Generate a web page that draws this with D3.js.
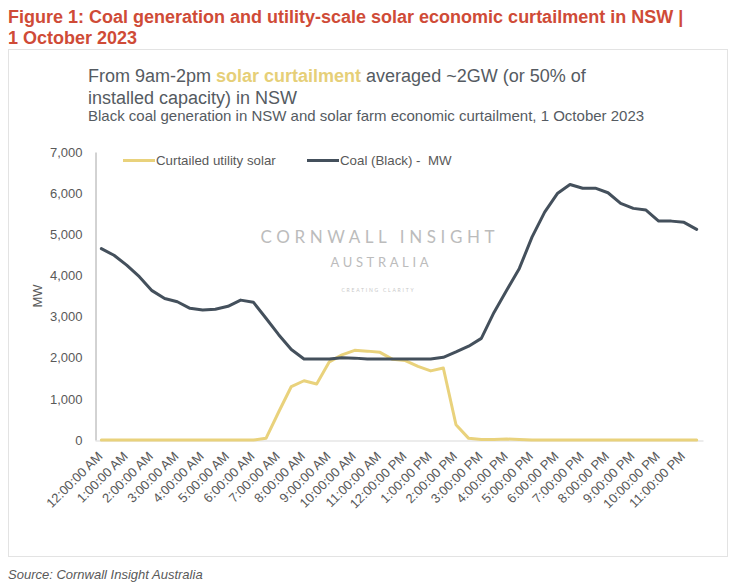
<!DOCTYPE html>
<html>
<head>
<meta charset="utf-8">
<script src="https://cdn.jsdelivr.net/npm/d3@7/dist/d3.min.js"></script>
<style>
  html, body { margin: 0; padding: 0; background: #ffffff; }
  svg { display: block; font-family: "Liberation Sans", Arial, sans-serif; }
  text { white-space: pre; }
</style>
</head>
<body>
<svg id="chart" width="736" height="585"></svg>
<script>
// ---- Data (half-hourly, 1 October 2023) ----
const times = [
  "12:00:00 AM","12:30:00 AM","1:00:00 AM","1:30:00 AM","2:00:00 AM","2:30:00 AM",
  "3:00:00 AM","3:30:00 AM","4:00:00 AM","4:30:00 AM","5:00:00 AM","5:30:00 AM",
  "6:00:00 AM","6:30:00 AM","7:00:00 AM","7:30:00 AM","8:00:00 AM","8:30:00 AM",
  "9:00:00 AM","9:30:00 AM","10:00:00 AM","10:30:00 AM","11:00:00 AM","11:30:00 AM",
  "12:00:00 PM","12:30:00 PM","1:00:00 PM","1:30:00 PM","2:00:00 PM","2:30:00 PM",
  "3:00:00 PM","3:30:00 PM","4:00:00 PM","4:30:00 PM","5:00:00 PM","5:30:00 PM",
  "6:00:00 PM","6:30:00 PM","7:00:00 PM","7:30:00 PM","8:00:00 PM","8:30:00 PM",
  "9:00:00 PM","9:30:00 PM","10:00:00 PM","10:30:00 PM","11:00:00 PM","11:30:00 PM"
];
const solarCurtailed = [
  0,0,0,0,0,0,0,0,0,0,0,0,
  0,40,680,1300,1440,1360,1900,2070,2180,2160,2130,1960,
  1930,1790,1680,1750,370,40,10,10,25,10,0,0,
  0,0,0,0,0,0,0,0,0,0,0,0
];
const coalBlack = [
  4650,4490,4250,3970,3630,3440,3360,3200,3160,3180,3250,3400,
  3350,2960,2560,2200,1970,1970,1970,2000,1990,1970,1970,1970,
  1970,1970,1970,2010,2140,2280,2470,3100,3640,4170,4930,5540,
  5990,6210,6120,6120,6010,5750,5630,5590,5320,5320,5290,5120
];
const xTickLabels = times.filter((t, i) => i % 2 === 0);
const yTickValues = [0,1000,2000,3000,4000,5000,6000,7000];
const seriesNames = ["Curtailed utility solar", "Coal (Black) -  MW"];
const seriesColors = ["#e9d27c", "#44505c"];

// ---- Layout ----
const svg = d3.select("#chart");
const textGrey = "#595959";

// Outer title
svg.append("text").attr("x", 8).attr("y", 22.5)
  .attr("font-size", 18).attr("font-weight", "bold").attr("fill", "#cf4b37")
  .text("Figure 1: Coal generation and utility-scale solar economic curtailment in NSW |");
svg.append("text").attr("x", 8).attr("y", 43.5)
  .attr("font-size", 18).attr("font-weight", "bold").attr("fill", "#cf4b37")
  .text("1 October 2023");

// Chart frame
svg.append("rect").attr("x", 8.5).attr("y", 49.5).attr("width", 719).attr("height", 507)
  .attr("fill", "none").attr("stroke", "#e3e3e3").attr("stroke-width", 1);

// Subtitles
const sub1 = svg.append("text").attr("x", 88).attr("y", 82)
  .attr("font-size", 18).attr("fill", "#555b62");
sub1.append("tspan").text("From 9am-2pm ");
sub1.append("tspan").attr("fill", "#e6cf78").attr("font-weight", "bold").text("solar curtailment");
sub1.append("tspan").text(" averaged ~2GW (or 50% of");
svg.append("text").attr("x", 88).attr("y", 103.5)
  .attr("font-size", 18).attr("fill", "#555b62")
  .text("installed capacity) in NSW");
svg.append("text").attr("x", 88).attr("y", 120.5)
  .attr("font-size", 15).attr("fill", "#555b62")
  .text("Black coal generation in NSW and solar farm economic curtailment, 1 October 2023");

// Scales
const x = d3.scaleBand().domain(times).range([95, 703]).padding(0);
const y = d3.scaleLinear().domain([0, 7000]).range([440, 152]);
const cx = d => x(d) + x.bandwidth() / 2;

// Watermark
const wm = svg.append("g").attr("fill", "#bcbcbc").attr("font-family", "Lato, 'Open Sans', sans-serif");
wm.append("text").attr("x", 260.5).attr("y", 242.5).attr("font-size", 17)
  .attr("textLength", 234).attr("lengthAdjust", "spacing").text("CORNWALL INSIGHT");
wm.append("text").attr("x", 330.5).attr("y", 266.5).attr("font-size", 13)
  .attr("textLength", 98).attr("lengthAdjust", "spacing").text("AUSTRALIA");
wm.append("text").attr("x", 341.5).attr("y", 292).attr("font-size", 5).attr("fill", "#c8c8c8")
  .attr("textLength", 72).attr("lengthAdjust", "spacing").text("CREATING CLARITY");

// Y axis
const yAxis = svg.append("g").attr("transform", "translate(95.5,0)")
  .call(d3.axisLeft(y).tickValues(yTickValues).tickSize(0).tickPadding(13)
    .tickFormat(d3.format(",")));
yAxis.select(".domain").attr("stroke", "#a6a6a6").attr("stroke-width", 1);
yAxis.selectAll("text").attr("font-size", 13).attr("fill", textGrey)
  .attr("font-family", "'Liberation Sans', Arial, sans-serif");

// Y axis title
svg.append("text").attr("transform", "translate(41.5,296) rotate(-90)")
  .attr("text-anchor", "middle").attr("font-size", 13).attr("fill", textGrey).text("MW");

// X axis baseline
const xAxis = svg.append("g").attr("transform", "translate(0,440.5)")
  .call(d3.axisBottom(x).tickValues(xTickLabels).tickSize(0).tickFormat(() => ""));
xAxis.select(".domain").attr("stroke", "#d9d9d9").attr("stroke-width", 1);

// X tick labels rotated
svg.append("g").selectAll("text").data(xTickLabels).join("text")
  .attr("transform", d => `translate(${cx(d) + 2},457) rotate(-45)`)
  .attr("text-anchor", "end").attr("font-size", 13).attr("fill", textGrey)
  .text(d => d);

// Lines
const line = d3.line().x((d, i) => cx(times[i])).y(d => y(d));
svg.append("path").datum(solarCurtailed).attr("d", line)
  .attr("fill", "none").attr("stroke", seriesColors[0]).attr("stroke-width", 3)
  .attr("stroke-linejoin", "round").attr("stroke-linecap", "round");
svg.append("path").datum(coalBlack).attr("d", line)
  .attr("fill", "none").attr("stroke", seriesColors[1]).attr("stroke-width", 3)
  .attr("stroke-linejoin", "round").attr("stroke-linecap", "round");

// Legend
const legendX = [123, 307];
seriesNames.forEach((name, i) => {
  const g = svg.append("g").attr("transform", `translate(${legendX[i]},160.5)`);
  g.append("line").attr("x1", 0).attr("x2", 32).attr("y1", 0).attr("y2", 0)
    .attr("stroke", seriesColors[i]).attr("stroke-width", 3);
  g.append("text").attr("x", 33).attr("y", 4.5).attr("font-size", 13.3).attr("fill", textGrey)
    .text(name);
});

// Source
svg.append("text").attr("x", 8).attr("y", 578.5).attr("font-size", 13)
  .attr("font-style", "italic").attr("fill", textGrey)
  .text("Source: Cornwall Insight Australia");
</script>
</body>
</html>
